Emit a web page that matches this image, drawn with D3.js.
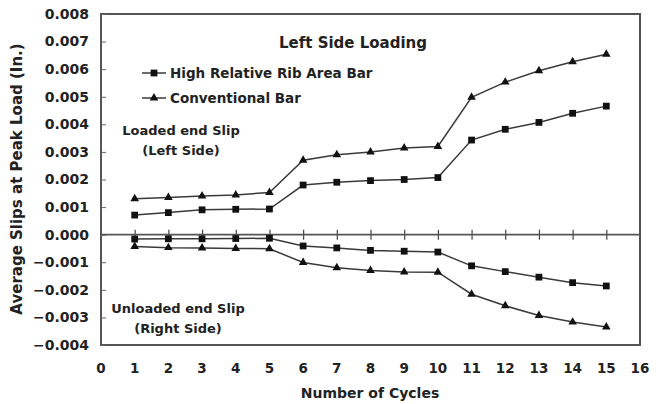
<!DOCTYPE html>
<html>
<head>
<meta charset="utf-8">
<script src="https://cdn.jsdelivr.net/npm/d3@7"></script>
<style>
  body { margin: 0; background: #fff; }
  text { font-family: "DejaVu Sans", sans-serif; font-weight: bold; fill: #222; }
</style>
</head>
<body>
<svg id="chart" width="662" height="404"></svg>
<script>
// data
var cycles = [1, 2, 3, 4, 5, 6, 7, 8, 9, 10, 11, 12, 13, 14, 15];
var highLoaded = [0.00071, 0.0008, 0.0009, 0.00092, 0.00093, 0.0018, 0.0019, 0.00196, 0.002, 0.00207, 0.00343, 0.00382, 0.00407, 0.0044, 0.00466];
var convLoaded = [0.0013, 0.00135, 0.0014, 0.00144, 0.00153, 0.0027, 0.0029, 0.003, 0.00314, 0.0032, 0.00498, 0.00553, 0.00594, 0.00627, 0.00654];
var highUnloaded = [-0.00016, -0.00015, -0.00015, -0.00014, -0.00013, -0.00041, -0.00048, -0.00057, -0.0006, -0.00063, -0.00113, -0.00134, -0.00154, -0.00174, -0.00186];
var convUnloaded = [-0.00043, -0.00047, -0.00048, -0.00050, -0.00051, -0.00101, -0.0012, -0.0013, -0.00135, -0.00136, -0.00216, -0.00258, -0.00293, -0.00317, -0.00335];
var xTicks = d3.range(0, 17);
var yTicks = [0.008, 0.007, 0.006, 0.005, 0.004, 0.003, 0.002, 0.001, 0, -0.001, -0.002, -0.003, -0.004];

var svg = d3.select("#chart");

// plot box
var boxL = 101, boxR = 640, boxT = 14, boxB = 345;

var x = d3.scaleLinear().domain([0, 16]).range([boxL, boxR]);
var y = d3.scaleLinear().domain([-0.004, 0.008]).range([boxB, boxT]);

// frame
svg.append("rect")
    .attr("x", boxL)
    .attr("y", boxT)
    .attr("width", boxR - boxL)
    .attr("height", boxB - boxT)
    .style("fill", "none")
    .style("stroke", "#555")
    .style("stroke-width", 2);

// y axis: labels outside, short ticks inside
var yAxis = svg.append("g")
    .attr("transform", "translate(" + boxL + ",0)")
    .call(d3.axisRight(y).tickValues(yTicks).tickSize(5).tickFormat(""));
yAxis.select(".domain").remove();
yAxis.selectAll("line").style("stroke", "#666").style("stroke-width", 1);

svg.selectAll(".ylab")
    .data(yTicks)
    .enter().append("text")
    .attr("class", "ylab")
    .attr("x", 89)
    .attr("y", function (d) { return y(d); })
    .attr("dy", "0.35em")
    .attr("text-anchor", "end")
    .style("font-size", "14px")
    .text(d3.format(".3f"));

// x labels
svg.selectAll(".xlab")
    .data(xTicks)
    .enter().append("text")
    .attr("class", "xlab")
    .attr("x", function (d) { return x(d); })
    .attr("y", 373)
    .attr("text-anchor", "middle")
    .style("font-size", "13.5px")
    .text(function (d) { return d; });

// zero line with cycle ticks
var zeroAxis = svg.append("g")
    .attr("transform", "translate(0," + y(0) + ")")
    .call(d3.axisBottom(x).tickValues(cycles).tickSize(5).tickFormat(""));
zeroAxis.select(".domain").remove();
zeroAxis.selectAll("line")
    .attr("y1", -5)
    .style("stroke", "#444")
    .style("stroke-width", 1.2);
svg.append("line")
    .attr("x1", boxL)
    .attr("x2", boxR)
    .attr("y1", y(0))
    .attr("y2", y(0))
    .style("stroke", "#555")
    .style("stroke-width", 1.6);

// series
var line = d3.line()
    .x(function (d) { return x(d[0]); })
    .y(function (d) { return y(d[1]); });

var tri = d3.symbol().type(d3.symbolTriangle).size(32);
var sq = d3.symbol().type(d3.symbolSquare).size(46);

function draw_series(vals, sym) {
    var pts = cycles.map(function (c, i) { return [c, vals[i]]; });
    svg.append("path")
        .attr("d", line(pts))
        .style("fill", "none")
        .style("stroke", "#3a3a3a")
        .style("stroke-width", 1.5);
    svg.append("g").selectAll("path")
        .data(pts)
        .enter().append("path")
        .attr("transform", function (d) { return "translate(" + x(d[0]) + "," + y(d[1]) + ")"; })
        .attr("d", sym)
        .style("fill", "#111");
}

draw_series(highLoaded, sq);
draw_series(convLoaded, tri);
draw_series(highUnloaded, sq);
draw_series(convUnloaded, tri);

// legend
var legend = [
    { label: "High Relative Rib Area Bar", sym: sq, yy: 73 },
    { label: "Conventional Bar", sym: tri, yy: 98 }
];
legend.forEach(function (l) {
    svg.append("line")
        .attr("x1", 142).attr("x2", 166)
        .attr("y1", l.yy).attr("y2", l.yy)
        .style("stroke", "#3a3a3a").style("stroke-width", 1.5);
    svg.append("path")
        .attr("transform", "translate(154," + l.yy + ")")
        .attr("d", l.sym)
        .style("fill", "#111");
    svg.append("text")
        .attr("x", 170)
        .attr("y", l.yy)
        .attr("dy", "0.35em")
        .style("font-size", "13.5px")
        .text(l.label);
});

// annotations
svg.append("text")
    .attr("x", 353).attr("y", 48)
    .attr("text-anchor", "middle")
    .style("font-size", "15px")
    .text("Left Side Loading");

var notes = [
    ["Loaded end Slip", 181, 135],
    ["(Left Side)", 181, 155],
    ["Unloaded end Slip", 178, 313],
    ["(Right Side)", 178, 333]
];
notes.forEach(function (n) {
    svg.append("text")
        .attr("x", n[1]).attr("y", n[2])
        .attr("text-anchor", "middle")
        .style("font-size", "13px")
        .text(n[0]);
});

// axis titles
svg.append("text")
    .attr("x", 370).attr("y", 398)
    .attr("text-anchor", "middle")
    .style("font-size", "14px")
    .text("Number of Cycles");

svg.append("text")
    .attr("transform", "translate(22,179) rotate(-90)")
    .attr("text-anchor", "middle")
    .style("font-size", "15px")
    .text("Average Slips at Peak Load (In.)");
</script>
</body>
</html>
